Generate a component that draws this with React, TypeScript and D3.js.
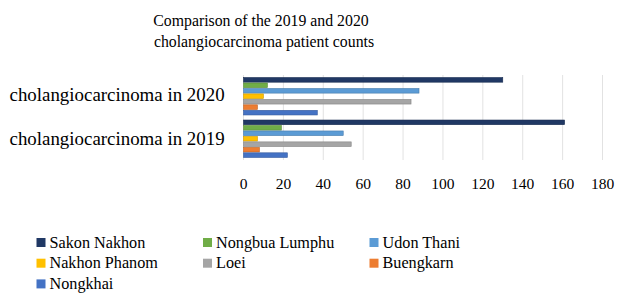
import React from "react";
import * as d3 from "d3";

const categories = ["cholangiocarcinoma in 2020", "cholangiocarcinoma in 2019"];
const seriesNames = ["Sakon Nakhon", "Nongbua Lumphu", "Udon Thani", "Nakhon Phanom", "Loei", "Buengkarn", "Nongkhai"];
const values2020 = [130, 12, 88, 10, 84, 7, 37];
const values2019 = [161, 19, 50, 7, 54, 8, 22];
const seriesColors = ["#203864", "#70AD47", "#5B9BD5", "#FFC000", "#A5A5A5", "#ED7D31", "#4472C4"];
const ticks = [0, 20, 40, 60, 80, 100, 120, 140, 160, 180];

const W = 624, H = 302;
const FONT = "'Liberation Serif', serif";

export default function App() {
  const x = d3.scaleLinear().domain([0, 180]).range([243.5, 602.5]);
  const y = d3.scaleBand().domain(categories).range([75, 160]).paddingInner(0.1).paddingOuter(0.05);
  const yInner = d3.scaleBand().domain(seriesNames).range([0, y.bandwidth()]);
  const data = [values2020, values2019];
  const labelBaselines = [100.5, 145];

  return (
    <svg width={W} height={H} style={{ position: "absolute", left: 0, top: 0, background: "#fff" }}>
      <rect width={W} height={H} fill="#fff" />
      <text x={261} y={25.5} textAnchor="middle" fontFamily={FONT} fontSize={15.8} fill="#000">Comparison of the 2019 and 2020</text>
      <text x={264} y={47} textAnchor="middle" fontFamily={FONT} fontSize={15.8} fill="#000">cholangiocarcinoma patient counts</text>

      {ticks.map((t) => (
        <line key={t} x1={x(t)} x2={x(t)} y1={75} y2={160} stroke="#e2e2e2" strokeWidth={1} />
      ))}

      {categories.map((c, ci) => (
        <g key={c}>
          {seriesNames.map((s, si) => (
            <rect
              key={s}
              x={x(0)}
              y={(y(c) as number) + (yInner(s) as number) + 0.4}
              width={x(data[ci][si]) - x(0)}
              height={yInner.bandwidth() - 0.8}
              fill={seriesColors[si]}
              stroke={d3.color(seriesColors[si])!.darker(0.6).toString()}
              strokeWidth={0.6}
            />
          ))}
          <text x={9.5} y={labelBaselines[ci]} fontFamily={FONT} fontSize={18.9} fill="#000">{c}</text>
        </g>
      ))}

      {ticks.map((t) => (
        <text key={t} x={x(t)} y={189} textAnchor="middle" fontFamily={FONT} fontSize={15.5} fill="#000">{t}</text>
      ))}

      {seriesNames.map((s, i) => {
        const col = i % 3, row = Math.floor(i / 3);
        const lx = 36.5 + col * 166.5;
        const ly = 242.5 + row * 20.7;
        return (
          <g key={s}>
            <rect x={lx} y={ly - 4.5} width={9} height={9} fill={seriesColors[i]} />
            <text x={lx + 13} y={ly + 5} fontFamily={FONT} fontSize={16.2} fill="#000">{s}</text>
          </g>
        );
      })}
    </svg>
  );
}
